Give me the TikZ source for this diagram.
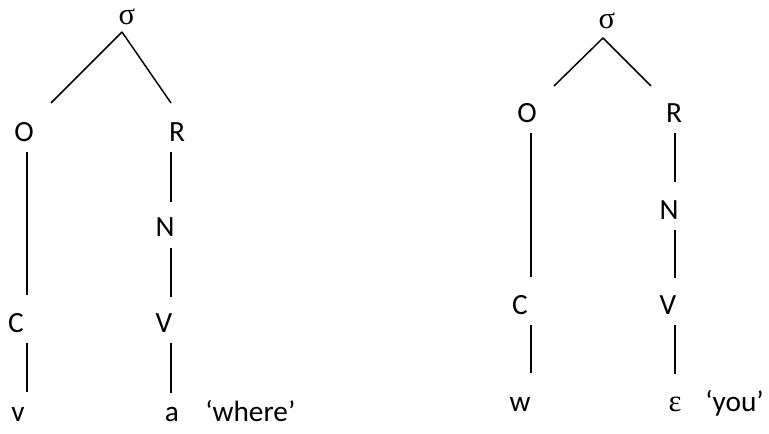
\documentclass[tikz,border=0pt]{standalone}
\usepackage{fontspec}
\setmainfont{Carlito}
\newfontfamily\greekfont{Liberation Serif}
\begin{document}
\begin{tikzpicture}[x=0.75pt,y=-0.75pt,
  lbl/.style={anchor=base,inner sep=0pt,font=\fontsize{22}{26}\selectfont},
  gloss/.style={lbl,anchor=base west},
  grk/.style={lbl,font=\fontsize{23}{27}\selectfont\greekfont},
  branch/.style={line width=1.1pt}]
\useasboundingbox (0,0) rectangle (769,434);

% ---- syllable 'where' ----
\node[grk] (sL) at (127,25) {σ};
\node[lbl] (oL) at (24,142) {O};
\node[lbl] (rL) at (177,142) {R};
\node[lbl] (nL) at (165,237) {N};
\node[lbl] (cL) at (16,333) {C};
\node[lbl] (vL) at (164,333) {V};
\node[lbl] (segvL) at (18,422) {v};
\node[lbl] (segaL) at (172,422) {a};
\node[gloss] (glL) at (205,422) {‘where’};

\coordinate (sLb) at (122,32);
\coordinate (oLt) at (51,103);
\coordinate (rLt) at (171,103);
\coordinate (oLb) at (27,152);
\coordinate (cLt) at (27,295);
\coordinate (rLb) at (171,152);
\coordinate (nLt) at (171,202);
\coordinate (nLb) at (171,248);
\coordinate (vLt) at (171,297);
\coordinate (cLb) at (27,343);
\coordinate (vsL) at (27,392);
\coordinate (vLb) at (171,343);
\coordinate (asL) at (171,393);

\draw[branch] (sLb) -- (oLt);
\draw[branch] (sLb) -- (rLt);
\draw[branch] (oLb) -- (cLt);
\draw[branch] (rLb) -- (nLt);
\draw[branch] (nLb) -- (vLt);
\draw[branch] (cLb) -- (vsL);
\draw[branch] (vLb) -- (asL);

% ---- syllable 'you' ----
\node[grk] (sR) at (607,29) {σ};
\node[lbl] (oR) at (527,123) {O};
\node[lbl] (rR) at (674,123) {R};
\node[lbl] (nR) at (669,220) {N};
\node[lbl] (cR) at (520,315) {C};
\node[lbl] (vR) at (668,315) {V};
\node[lbl] (segwR) at (520,412) {w};
\node[grk] (segeR) at (675,412) {ε};
\node[gloss] (glR) at (705,412) {‘you’};

\coordinate (sRb) at (603,38);
\coordinate (oRt) at (554,86);
\coordinate (rRt) at (651,86);
\coordinate (oRb) at (531,133);
\coordinate (cRt) at (531,277);
\coordinate (rRb) at (675,133);
\coordinate (nRt) at (675,182);
\coordinate (nRb) at (675,230);
\coordinate (vRt) at (675,278);
\coordinate (cRb) at (531,325);
\coordinate (wsR) at (531,373);
\coordinate (vRb) at (675,325);
\coordinate (esR) at (675,374);

\draw[branch] (sRb) -- (oRt);
\draw[branch] (sRb) -- (rRt);
\draw[branch] (oRb) -- (cRt);
\draw[branch] (rRb) -- (nRt);
\draw[branch] (nRb) -- (vRt);
\draw[branch] (cRb) -- (wsR);
\draw[branch] (vRb) -- (esR);
\end{tikzpicture}
\end{document}
